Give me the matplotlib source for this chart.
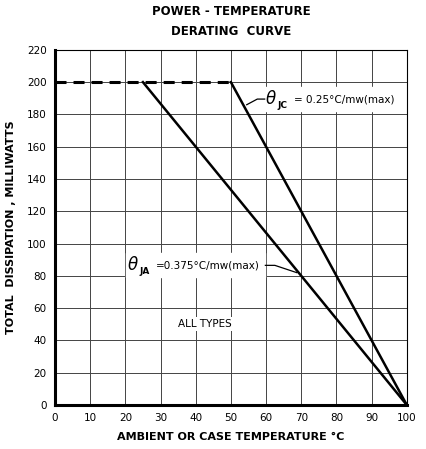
import matplotlib
matplotlib.use("Agg")
import matplotlib.pyplot as plt

# Data
flat_x = [0, 50]
flat_y = [200, 200]
ja_x = [25, 100]
ja_y = [200, 0]
jc_x = [50, 100]
jc_y = [200, 0]
x_ticks = [0, 10, 20, 30, 40, 50, 60, 70, 80, 90, 100]
y_ticks = [0, 20, 40, 60, 80, 100, 120, 140, 160, 180, 200, 220]

plt.rcParams['font.family'] = ['DejaVu Sans']
fig = plt.figure(figsize=(4.26, 4.49), dpi=100)
ax = fig.add_axes([0.129, 0.098, 0.826, 0.791])

ax.set_xlim(0, 100)
ax.set_ylim(0, 220)
ax.set_xticks(x_ticks)
ax.set_yticks(y_ticks)
ax.set_xticklabels([str(v) for v in x_ticks], fontsize=7.5)
ax.set_yticklabels([str(v) for v in y_ticks], fontsize=7.5)
ax.tick_params(length=0, pad=6)
ax.grid(True, color='#444444', linewidth=0.7)
ax.set_axisbelow(True)
for s in ['top', 'right']:
    ax.spines[s].set_linewidth(0.8)
for s in ['left', 'bottom']:
    ax.spines[s].set_linewidth(2.2)

ax.plot(flat_x, flat_y, color='black', linewidth=2.2, linestyle=(0, (3.6, 2.3)))
ax.plot(ja_x, ja_y, color='black', linewidth=1.8)
ax.plot(jc_x, jc_y, color='black', linewidth=1.8)

white = dict(facecolor='white', edgecolor='none', pad=1.5)

# theta_JC label
ax.fill_between([59.3, 98.5], 182, 197, color='white', zorder=2)
ax.plot([54.5, 57.5, 59.6], [186, 189.5, 189.5], color='black', lw=0.9, zorder=3)
ax.text(59.8, 189.5, r'$\theta$', fontsize=12, ha='left', va='center', zorder=4)
ax.text(63.3, 185.5, 'JC', fontsize=6.5, fontweight='bold', ha='left', va='center', zorder=4)
ax.text(68.0, 189.5, '= 0.25°C/mw(max)', fontsize=7.5, ha='left', va='center', zorder=4)

# theta_JA label
ax.fill_between([20.3, 59.7], 79, 94, color='white', zorder=2)
ax.plot([59.8, 62.5, 68.7], [86.5, 86.5, 82], color='black', lw=0.9, zorder=3)
ax.text(20.6, 86.5, r'$\theta$', fontsize=12, ha='left', va='center', zorder=4)
ax.text(24.1, 82.5, 'JA', fontsize=6.5, fontweight='bold', ha='left', va='center', zorder=4)
ax.text(28.6, 86.5, '=0.375°C/mw(max)', fontsize=7.5, ha='left', va='center', zorder=4)

ax.text(42.5, 50, 'ALL TYPES', fontsize=7.5, ha='center', va='center', bbox=white)

ax.set_xlabel('AMBIENT OR CASE TEMPERATURE °C', fontsize=8, fontweight='bold', labelpad=6)
ax.set_ylabel('TOTAL  DISSIPATION , MILLIWATTS', fontsize=8, fontweight='bold', labelpad=8)
fig.text(0.542, 0.975, 'POWER - TEMPERATURE', ha='center', va='center', fontsize=8.5, fontweight='bold')
fig.text(0.542, 0.93, 'DERATING  CURVE', ha='center', va='center', fontsize=8.5, fontweight='bold')

fig.savefig('out.png', dpi=100)
